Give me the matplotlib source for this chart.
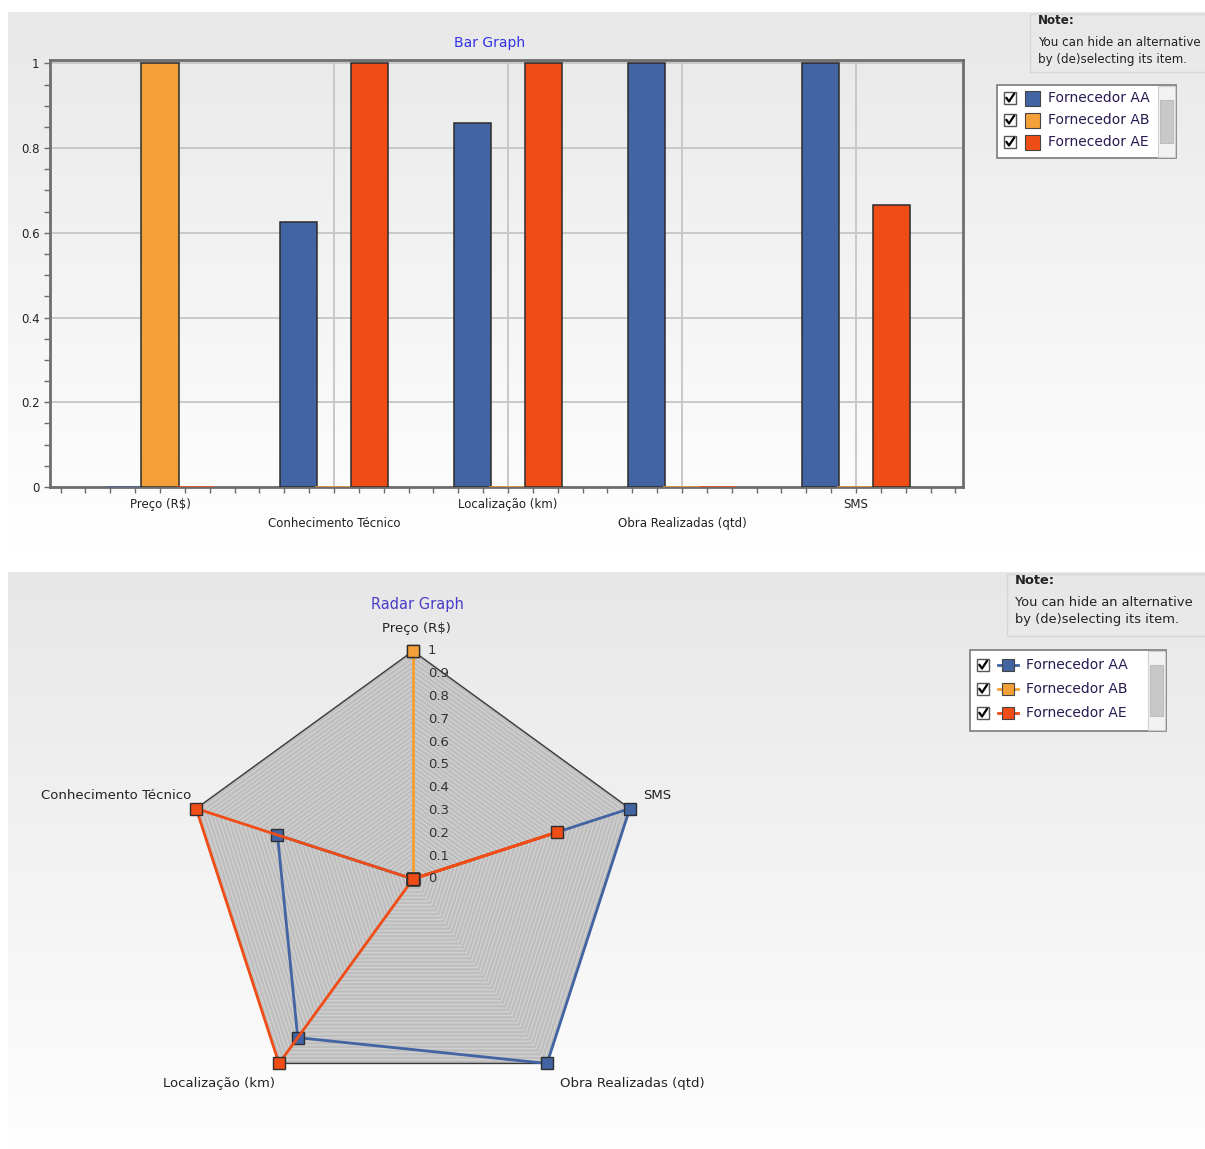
import numpy as np
import matplotlib
matplotlib.use("Agg")
import matplotlib.pyplot as plt
from matplotlib.patches import Rectangle, Polygon

# ---- data -------------------------------------------------------------
criteria = ["Preço (R$)", "Conhecimento Técnico", "Localização (km)",
            "Obra Realizadas (qtd)", "SMS"]
series_names = ["Fornecedor AA", "Fornecedor AB", "Fornecedor AE"]
fornecedor_aa = [0.0, 0.625, 0.86, 1.0, 1.0]
fornecedor_ab = [1.0, 0.0, 0.0, 0.0, 0.0]
fornecedor_ae = [0.0, 1.0, 1.0, 0.0, 0.665]
series_colors = ["#4264a2", "#f4a038", "#f04c16"]
radar_ticks = [0.0, 0.1, 0.2, 0.3, 0.4, 0.5, 0.6, 0.7, 0.8, 0.9, 1.0]
bar_yticks = [0, 0.2, 0.4, 0.6, 0.8, 1]

series_values = [fornecedor_aa, fornecedor_ab, fornecedor_ae]

W, H = 1205, 1149
plt.rcParams["font.family"] = ["DejaVu Sans"]
fig = plt.figure(figsize=(W / 100, H / 100), dpi=100)


def box(x0, y0, x1, y1):
    """Pixel box (top-left origin) -> figure fraction rect."""
    return [x0 / W, 1 - y1 / H, (x1 - x0) / W, (y1 - y0) / H]


# ---- background panels -------------------------------------------------
bg = fig.add_axes([0, 0, 1, 1])
bg.set_xlim(0, W)
bg.set_ylim(H, 0)
bg.axis("off")


def gradient(x0, y0, x1, y1, top, bottom):
    t = np.linspace(0, 1, 256)[:, None]
    c0 = np.array(matplotlib.colors.to_rgb(top))
    c1 = np.array(matplotlib.colors.to_rgb(bottom))
    img = (c0 * (1 - t) + c1 * t)[:, None, :].repeat(2, axis=1)
    bg.imshow(img, extent=(x0, x1, y1, y0), aspect="auto", zorder=0,
              interpolation="bilinear")


gradient(8, 12, W, 548, "#e8e8e8", "#ffffff")
gradient(8, 572, W, H, "#e7e7e7", "#fefefe")
bg.set_xlim(0, W)
bg.set_ylim(H, 0)


def note_box(x0, y0, x1, y1, fs):
    bg.add_patch(Rectangle((x0, y0), x1 - x0, y1 - y0, facecolor="none",
                           edgecolor="#d6d6d6", lw=1, zorder=2))
    bg.text(x0 + 8, y0 + 7, "Note:", fontsize=fs, fontweight="bold",
            color="#222222", va="center", zorder=3)
    bg.text(x0 + 8, y0 + 28, "You can hide an alternative", fontsize=fs,
            color="#222222", va="center", zorder=3)
    bg.text(x0 + 8, y0 + 45, "by (de)selecting its item.", fontsize=fs,
            color="#222222", va="center", zorder=3)


def legend_box(x0, y0, x1, y1, rows, line_icon):
    bg.add_patch(Rectangle((x0, y0), x1 - x0, y1 - y0, facecolor="white",
                           edgecolor="#7a7a7a", lw=1.2, zorder=2))
    # scrollbar
    sx0 = x1 - 18
    bg.add_patch(Rectangle((sx0, y0 + 1), 17, y1 - y0 - 2, facecolor="#f2f2f2",
                           edgecolor="#d0d0d0", lw=0.8, zorder=3))
    bg.add_patch(Rectangle((sx0 + 2, y0 + 15), 13, y1 - y0 - 30,
                           facecolor="#c8c8c8", edgecolor="#bdbdbd", lw=0.8,
                           zorder=4))
    for (ry, name, col) in rows:
        cx = x0 + 7
        bg.add_patch(Rectangle((cx, ry - 6), 12, 12, facecolor="white",
                               edgecolor="#555555", lw=1, zorder=4))
        bg.plot([cx + 2.5, cx + 5, cx + 10], [ry, ry + 3.5, ry - 4],
                color="black", lw=1.6, zorder=5)
        if line_icon:
            ix = x0 + 38
            bg.plot([ix - 10, ix + 10], [ry, ry], color=col, lw=2, zorder=4)
            bg.add_patch(Rectangle((ix - 6, ry - 6), 12, 12, facecolor=col,
                                   edgecolor="#444444", lw=0.8, zorder=5))
            tx = x0 + 56
        else:
            bg.add_patch(Rectangle((x0 + 28, ry - 7), 15, 15, facecolor=col,
                                   edgecolor="#444444", lw=0.8, zorder=5))
            tx = x0 + 51
        bg.text(tx, ry, name, fontsize=10, color="#2a1a50", va="center",
                zorder=5)


note_box(1030, 14, 1215, 72, 8.6)
legend_box(997, 85, 1176, 158,
           list(zip([98, 120, 142], series_names, series_colors)), False)
note_box(1007, 574, 1215, 636, 9.4)
legend_box(970, 650, 1166, 731,
           list(zip([665, 689, 713], series_names, series_colors)), True)

fig.text(490 / W, 1 - 43 / H, "Bar Graph", color="#3232e6", fontsize=10,
         ha="center", va="center")
fig.text(417 / W, 1 - 605 / H, "Radar Graph", color="#4a3cc8", fontsize=10.5,
         ha="center", va="center")

# ---- bar chart ---------------------------------------------------------
ax = fig.add_axes(box(50, 60, 963, 487))
ax.set_facecolor("none")
x = np.arange(len(criteria))
width = 0.213
offsets = [-0.204, 0.0, 0.204]
for vals, off, col in zip(series_values, offsets, series_colors):
    edges = ["#2c2c2c" if v > 0 else col for v in vals]
    ax.bar(x + off, vals, width=width, color=col, edgecolor=edges,
           linewidth=1.1, zorder=3)

ax.set_xlim(-0.632, 4.615)
ax.set_ylim(0, 1.008)
ax.set_yticks(bar_yticks)
ax.set_yticklabels([f"{v:g}" for v in bar_yticks])
ax.set_yticks(np.arange(0, 1.0001, 0.05), minor=True)
ax.set_xticks(x)
ax.set_xticklabels([c if i % 2 == 0 else "\n" + c
                    for i, c in enumerate(criteria)])
ax.set_xticks(np.arange(-4, 33) / 7.0, minor=True)
ax.tick_params(axis="both", which="both", direction="out", length=4,
               color="#6a6a6a", width=1, labelsize=8.5, labelcolor="#222222")
ax.tick_params(axis="x", pad=4)
for lbl in ax.get_xticklabels():
    lbl.set_linespacing(1.55)
ax.grid(True, which="major", color="#c8c8c8", lw=1.4, zorder=0)
for s in ax.spines.values():
    s.set_color("#6e6e6e")
    s.set_linewidth(2)

# ---- radar chart -------------------------------------------------------
half = 250.8
rad = fig.add_axes(box(413 - half, 879 - half, 413 + half, 879 + half))
rad.set_xlim(-1.1, 1.1)
rad.set_ylim(-1.1, 1.1)
rad.set_aspect("equal")
rad.axis("off")

angles = np.deg2rad(90 + 72 * np.arange(len(criteria)))
ux, uy = np.cos(angles), np.sin(angles)

# shaded web: dense concentric pentagons
rad.add_patch(Polygon(np.column_stack([ux, uy]), closed=True,
                      facecolor="#bebebe", edgecolor="none", zorder=1))
for lev in np.linspace(0.04, 0.98, 48):
    rad.add_patch(Polygon(np.column_stack([ux * lev, uy * lev]), closed=True,
                          facecolor="none", edgecolor="#d2d2d2", lw=0.9,
                          zorder=1.5))
rad.add_patch(Polygon(np.column_stack([ux, uy]), closed=True,
                      facecolor="none", edgecolor="#3a3a3a", lw=1.0, zorder=2))

draw_order = [1, 0, 2]
for k in draw_order:
    vals = np.array(series_values[k])
    px = np.append(ux * vals, ux[0] * vals[0])
    py = np.append(uy * vals, uy[0] * vals[0])
    rad.plot(px, py, color=series_colors[k], lw=2, zorder=3 + k,
             marker="s", markersize=9, markerfacecolor=series_colors[k],
             markeredgecolor="#2e2e2e", markeredgewidth=1.0)

for t in radar_ticks:
    rad.text(0.066, t, f"{t:g}", fontsize=9.5, color="#333333",
             ha="left", va="center", zorder=8)

label_pos = [(0.013, 1.10, "center"), (-0.974, 0.368, "right"),
             (-0.851, -0.895, "center"), (0.96, -0.895, "center"),
             (1.009, 0.368, "left")]
for (lx, ly, ha), name in zip(label_pos, criteria):
    rad.text(lx, ly, name, fontsize=9.5, color="#222222", ha=ha,
             va="center", zorder=8)

fig.savefig("out.png", dpi=100)
